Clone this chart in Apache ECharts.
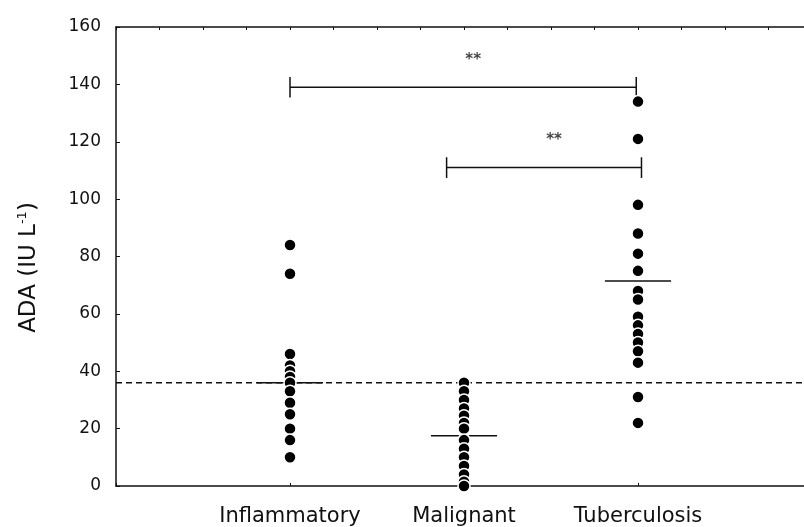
<!DOCTYPE html>
<html>
<head>
<meta charset="utf-8">
<script src="https://cdn.jsdelivr.net/npm/echarts@6/dist/echarts.min.js"></script>
<style>html,body{margin:0;padding:0;background:#fff;overflow:hidden}#c{width:804px;height:527px}</style>
</head>
<body>
<div id="c"></div>
<script>
// ---- data ----
const categories = ['Inflammatory', 'Malignant', 'Tuberculosis'];
const inflammatory = [84, 74, 46, 42, 40, 38, 36, 33, 29, 25, 20, 16, 10];
const malignant = [36, 33, 30, 27, 24.5, 22, 20, 16, 13, 10, 7, 4, 1.5, 0];
const tuberculosis = [134, 121, 98, 88, 81, 75, 68, 65, 59, 56, 53, 50, 47, 43, 31, 22];
const medians = [36, 17.5, 71.5];
const cutoff = 36;
const brackets = [
  { from: 1, to: 2.99, y: 139, label: '**' },
  { from: 1.9, to: 3.02, y: 111, label: '**' }
];
const yMin = 0, yMax = 160, yStep = 20;
const xMax = 3.954;

// ---- build ----
const groups = [inflammatory, malignant, tuberculosis];
const FONT = 'DejaVu Sans';
const INK = '#111';
const medianHalf = 0.19;
const capHalf = 3.6;

const series = [];

// cutoff dashed line
series.push({
  type: 'line', data: [[0, cutoff], [xMax, cutoff]], symbol: 'none', silent: true, z: 2,
  lineStyle: { color: INK, width: 1.5, type: [6, 4] }
});

// median lines
medians.forEach((m, i) => {
  series.push({
    type: 'line', data: [[i + 1 - medianHalf, m], [i + 1 + medianHalf, m]], symbol: 'none', silent: true, z: 3,
    lineStyle: { color: INK, width: 1.5 }
  });
});

// brackets
brackets.forEach(b => {
  series.push({
    type: 'line', symbol: 'none', silent: true, z: 3, connectNulls: false,
    data: [[b.from, b.y - capHalf], [b.from, b.y + capHalf], '-', [b.from, b.y], [b.to, b.y], '-', [b.to, b.y - capHalf], [b.to, b.y + capHalf]],
    lineStyle: { color: INK, width: 1.5 }
  });
  series.push({
    type: 'scatter', symbolSize: 0, silent: true, z: 4,
    data: [[(b.from + b.to) / 2, b.y]],
    label: { show: true, formatter: b.label, position: 'top', distance: 20, offset: [10, 0], fontFamily: FONT, fontSize: 15, fontWeight: 'bold', color: INK }
  });
});

// dots
groups.forEach((vals, i) => {
  series.push({
    type: 'scatter', z: 5, silent: true,
    data: vals.map(v => [i + 1, v]),
    symbol: 'circle', symbolSize: 12,
    itemStyle: { color: '#000', borderColor: '#fff', borderWidth: 1.5, opacity: 1 }
  });
});

const chart = echarts.init(document.getElementById('c'), null, { renderer: 'canvas' });
chart.setOption({
  animation: false,
  backgroundColor: '#fff',
  grid: { left: 116, right: 0, top: 27, bottom: 40 },
  xAxis: [
    {
      type: 'value', position: 'bottom', min: 0, max: xMax, interval: 1,
      axisLine: { show: true, lineStyle: { color: INK, width: 1.5 } },
      axisTick: { show: true, inside: true, length: 3, lineStyle: { color: INK } },
      splitLine: { show: false },
      axisLabel: {
        margin: 20, fontFamily: FONT, fontSize: 21, color: INK, showMaxLabel: false,
        formatter: v => (Math.abs(v - Math.round(v)) < 1e-6 ? (categories[Math.round(v) - 1] || '') : '')
      }
    },
    {
      type: 'value', position: 'top', min: 0, max: xMax, interval: 0.25,
      axisLine: { show: true, lineStyle: { color: INK, width: 1.5 } },
      axisTick: { show: true, inside: true, length: 3, lineStyle: { color: INK } },
      splitLine: { show: false },
      axisLabel: { show: false }
    }
  ],
  yAxis: {
    type: 'value', min: yMin, max: yMax, interval: yStep,
    axisLine: { show: true, lineStyle: { color: INK, width: 1.5 } },
    axisTick: { show: true, inside: true, length: 4, lineStyle: { color: INK } },
    splitLine: { show: false },
    axisLabel: { margin: 15, fontFamily: FONT, fontSize: 17, color: INK },
    name: 'ADA (IU L{sup|-1})',
    nameLocation: 'middle', nameGap: 74, nameRotate: 90,
    nameTextStyle: {
      fontFamily: FONT, fontSize: 23, color: INK, lineHeight: 26, padding: [0, 22, 0, 0],
      rich: { sup: { fontFamily: FONT, fontSize: 13, color: INK, verticalAlign: 'top', lineHeight: 26 } }
    }
  },
  series: series
});
</script>
</body>
</html>
